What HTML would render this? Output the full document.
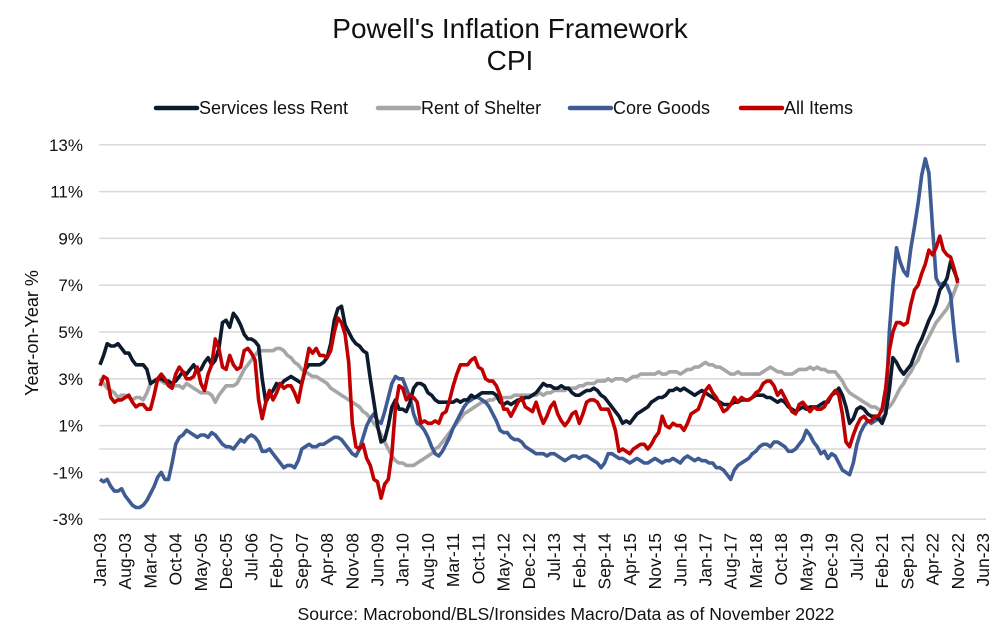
<!DOCTYPE html>
<html><head><meta charset="utf-8"><style>
body{margin:0;background:#fff;font-family:"Liberation Sans",Arial,sans-serif}
svg{display:block}
</style></head><body>
<svg id="chart" width="1005" height="631" viewBox="0 0 1005 631" xmlns="http://www.w3.org/2000/svg" font-family="Liberation Sans, Arial, sans-serif">
<text x="510" y="38" font-size="28" text-anchor="middle" fill="#111">Powell's Inflation Framework</text>
<text x="510" y="70" font-size="28" text-anchor="middle" fill="#111">CPI</text>
<g font-size="18" fill="#111">
<g><line x1="156" y1="108" x2="197" y2="108" stroke="#0d1b2e" stroke-width="4.5" stroke-linecap="round"/><text x="199" y="114">Services less Rent</text></g>
<g><line x1="378" y1="108" x2="419" y2="108" stroke="#a6a6a6" stroke-width="4.5" stroke-linecap="round"/><text x="421" y="114">Rent of Shelter</text></g>
<g><line x1="570" y1="108" x2="611" y2="108" stroke="#3e5b94" stroke-width="4.5" stroke-linecap="round"/><text x="613" y="114">Core Goods</text></g>
<g><line x1="741" y1="108" x2="782" y2="108" stroke="#c00000" stroke-width="4.5" stroke-linecap="round"/><text x="784" y="114">All Items</text></g>
</g>
<text transform="translate(38,333) rotate(-90)" font-size="18" text-anchor="middle" fill="#111">Year-on-Year %</text>
<g id="grid"></g><g id="yticks"></g><g id="xticks"></g><g id="series"></g>
<text x="566" y="620" font-size="17.6" text-anchor="middle" fill="#111">Source: Macrobond/BLS/Ironsides Macro/Data as of November 2022</text>
</svg>
<script>
const yTicks=[13,11,9,7,5,3,1,0,-1,-3];
const xTickLabels=["Jan-03","Aug-03","Mar-04","Oct-04","May-05","Dec-05","Jul-06","Feb-07","Sep-07","Apr-08","Nov-08","Jun-09","Jan-10","Aug-10","Mar-11","Oct-11","May-12","Dec-12","Jul-13","Feb-14","Sep-14","Apr-15","Nov-15","Jun-16","Jan-17","Aug-17","Mar-18","Oct-18","May-19","Dec-19","Jul-20","Feb-21","Sep-21","Apr-22","Nov-22","Jun-23"];
const servicesLessRent=[3.6,4.0,4.5,4.4,4.4,4.5,4.3,4.1,4.1,3.8,3.6,3.6,
3.6,3.4,2.8,2.9,3.0,3.0,2.9,2.9,2.8,2.9,3.1,3.3,
3.2,3.4,3.6,3.3,3.4,3.7,3.9,3.6,3.8,4.3,5.4,5.5,
5.2,5.8,5.6,5.3,4.9,4.7,4.7,4.6,4.4,3.0,2.0,2.3,
2.5,2.8,2.7,2.9,3.0,3.1,3.0,2.9,2.8,3.4,3.6,3.6,
3.6,3.6,3.7,3.9,4.5,5.5,6.0,6.1,5.3,5.0,4.7,4.5,
4.4,4.2,4.1,3.0,2.0,1.0,0.3,0.4,1.0,1.8,2.1,1.7,
1.7,1.6,2.0,2.6,2.8,2.8,2.7,2.4,2.3,2.1,2.0,2.0,
2.0,2.0,2.0,2.1,2.0,2.1,2.1,2.3,2.2,2.3,2.4,2.4,
2.4,2.4,2.3,2.0,1.9,2.0,1.9,2.0,2.1,2.1,2.2,2.2,
2.3,2.4,2.6,2.8,2.7,2.7,2.6,2.6,2.7,2.6,2.6,2.4,
2.3,2.3,2.4,2.5,2.5,2.6,2.5,2.3,2.2,2.0,1.8,1.6,
1.4,1.1,1.2,1.1,1.3,1.5,1.6,1.7,1.8,2.0,2.1,2.2,
2.2,2.3,2.5,2.5,2.6,2.5,2.6,2.5,2.4,2.3,2.4,2.5,
2.4,2.3,2.2,2.1,2.0,1.9,1.9,1.9,2.0,2.0,2.1,2.1,
2.1,2.2,2.3,2.3,2.3,2.2,2.2,2.1,2.0,2.1,2.0,1.8,
1.7,1.6,1.7,1.8,1.7,1.8,1.8,1.8,1.9,2.0,2.0,2.3,
2.4,2.6,2.3,1.8,1.1,1.3,1.7,1.8,1.7,1.5,1.4,1.4,
1.3,1.1,1.5,2.5,3.9,3.7,3.4,3.2,3.4,3.6,4.0,4.4,
4.7,5.1,5.5,5.8,6.2,6.8,7.0,7.3,8.0,7.6,7.2];
const rentOfShelter=[3.0,2.8,2.6,2.5,2.4,2.2,2.3,2.3,2.2,2.1,2.2,2.2,
2.1,2.4,2.8,2.9,3.0,2.9,2.8,2.8,2.7,2.7,2.7,2.6,
2.8,2.7,2.6,2.5,2.4,2.4,2.4,2.3,2.0,2.3,2.5,2.7,
2.7,2.7,2.8,3.1,3.4,3.6,3.8,4.0,4.2,4.2,4.2,4.2,
4.2,4.3,4.3,4.2,4.0,3.9,3.7,3.6,3.4,3.3,3.2,3.1,
3.1,3.0,2.9,2.8,2.6,2.5,2.4,2.3,2.2,2.1,2.0,1.9,
1.8,1.6,1.5,1.3,1.1,0.9,0.6,0.3,0.0,-0.3,-0.5,-0.6,
-0.6,-0.7,-0.7,-0.7,-0.6,-0.5,-0.4,-0.3,-0.2,0.0,0.1,0.3,
0.5,0.7,0.9,1.1,1.3,1.5,1.6,1.7,1.8,1.9,2.0,2.0,
2.1,2.1,2.2,2.1,2.2,2.2,2.2,2.3,2.3,2.3,2.3,2.3,
2.3,2.3,2.4,2.3,2.4,2.4,2.5,2.5,2.5,2.5,2.6,2.6,
2.6,2.7,2.7,2.8,2.8,2.8,2.9,2.9,2.9,3.0,2.9,3.0,
3.0,3.0,2.9,3.0,3.1,3.1,3.2,3.2,3.2,3.2,3.2,3.3,
3.2,3.2,3.3,3.3,3.3,3.2,3.3,3.4,3.4,3.5,3.5,3.6,
3.7,3.6,3.6,3.5,3.5,3.4,3.3,3.2,3.2,3.3,3.2,3.2,
3.2,3.2,3.2,3.2,3.3,3.4,3.5,3.4,3.3,3.3,3.2,3.2,
3.2,3.3,3.4,3.4,3.4,3.5,3.4,3.5,3.4,3.4,3.3,3.3,
3.3,3.1,2.9,2.6,2.4,2.3,2.2,2.1,2.0,1.9,1.8,1.8,
1.7,1.6,1.7,1.8,2.0,2.3,2.6,2.8,3.1,3.3,3.6,3.8,
4.2,4.5,4.8,5.1,5.4,5.6,5.8,6.0,6.3,6.7,7.1];
const coreGoods=[-1.3,-1.4,-1.3,-1.6,-1.8,-1.8,-1.7,-2.0,-2.2,-2.4,-2.5,-2.5,
-2.4,-2.2,-1.9,-1.6,-1.2,-1.0,-1.3,-1.3,-0.6,0.2,0.5,0.6,
0.8,0.7,0.6,0.5,0.6,0.6,0.5,0.7,0.6,0.4,0.2,0.1,
0.1,0.0,0.2,0.4,0.3,0.5,0.6,0.5,0.3,-0.1,-0.1,0.0,
-0.2,-0.4,-0.6,-0.8,-0.7,-0.7,-0.8,-0.5,0.0,0.1,0.2,0.1,
0.1,0.2,0.2,0.3,0.4,0.5,0.5,0.4,0.2,0.0,-0.2,-0.3,
0.0,0.5,1.0,1.3,1.5,1.2,1.1,1.6,2.2,2.8,3.1,3.0,
3.0,2.6,2.2,1.5,1.1,1.0,0.8,0.5,0.1,-0.2,-0.3,-0.1,
0.2,0.5,0.9,1.2,1.5,1.8,2.0,2.1,2.2,2.2,2.1,2.0,
1.8,1.5,1.2,0.8,0.7,0.7,0.5,0.4,0.4,0.3,0.1,0.0,
-0.1,-0.2,-0.2,-0.2,-0.3,-0.2,-0.2,-0.3,-0.4,-0.5,-0.4,-0.3,
-0.3,-0.4,-0.3,-0.3,-0.4,-0.5,-0.6,-0.8,-0.6,-0.2,-0.2,-0.3,
-0.4,-0.4,-0.5,-0.6,-0.5,-0.4,-0.5,-0.6,-0.6,-0.5,-0.4,-0.5,
-0.6,-0.5,-0.5,-0.4,-0.5,-0.6,-0.4,-0.3,-0.4,-0.5,-0.4,-0.5,
-0.5,-0.6,-0.6,-0.8,-0.8,-0.9,-1.1,-1.3,-0.9,-0.7,-0.6,-0.5,
-0.4,-0.2,-0.1,0.1,0.2,0.2,0.1,0.3,0.3,0.2,0.1,-0.1,
-0.1,0.0,0.2,0.4,0.8,0.6,0.3,0.1,-0.2,-0.1,-0.4,-0.2,
-0.3,-0.6,-0.9,-1.0,-1.1,-0.6,0.2,0.7,1.0,1.2,1.1,1.2,
1.3,1.3,1.5,5.0,7.0,8.6,8.0,7.6,7.4,8.6,9.5,10.5,
11.7,12.4,11.8,9.5,7.3,7.0,7.1,7.0,6.6,5.0,3.7];
const allItems=[2.7,3.1,3.0,2.2,2.0,2.1,2.1,2.2,2.3,2.0,1.8,1.9,
1.9,1.7,1.7,2.3,3.0,3.2,3.0,2.7,2.6,3.2,3.5,3.3,
3.0,3.0,3.1,3.5,2.8,2.5,3.2,3.6,4.7,4.3,3.5,3.4,
4.0,3.6,3.4,3.5,4.2,4.3,4.1,3.8,2.1,1.3,2.0,2.5,
2.1,2.4,2.8,2.6,2.7,2.7,2.4,2.0,2.8,3.5,4.3,4.1,
4.3,4.0,4.0,3.9,4.2,5.0,5.6,5.4,4.9,3.7,1.1,0.1,
0.0,0.2,-0.4,-0.7,-1.3,-1.4,-2.1,-1.5,-1.3,-0.2,1.8,2.7,
2.6,2.1,2.3,2.2,2.0,1.1,1.2,1.1,1.1,1.2,1.1,1.5,
1.6,2.1,2.7,3.2,3.6,3.6,3.6,3.8,3.9,3.5,3.4,3.0,
2.9,2.9,2.7,2.3,1.7,1.7,1.4,1.7,2.0,2.2,1.8,1.7,
1.6,2.0,1.5,1.1,1.4,1.8,2.0,1.5,1.2,1.0,1.2,1.5,
1.6,1.1,1.5,2.0,2.1,2.1,2.0,1.7,1.7,1.7,1.3,0.8,
-0.1,0.0,-0.1,-0.2,0.0,0.1,0.2,0.2,0.0,0.2,0.5,0.7,
1.4,1.0,0.9,1.1,1.0,1.0,0.8,1.1,1.5,1.6,1.7,2.1,
2.5,2.7,2.4,2.2,1.9,1.6,1.7,1.9,2.2,2.0,2.2,2.1,
2.1,2.2,2.4,2.5,2.8,2.9,2.9,2.7,2.3,2.5,2.2,1.9,
1.6,1.5,1.9,2.0,1.8,1.6,1.8,1.7,1.7,1.8,2.1,2.3,
2.5,2.3,1.5,0.3,0.1,0.6,1.0,1.3,1.4,1.2,1.2,1.4,
1.4,1.7,2.6,4.2,5.0,5.4,5.4,5.3,5.4,6.2,6.8,7.0,
7.5,7.9,8.5,8.3,8.6,9.1,8.5,8.3,8.2,7.7,7.1];

const NS="http://www.w3.org/2000/svg";
const X0=100, PX=883/245, Y0=449, PY=23.4;
function xS(m){return X0+m*PX;}
function yS(v){return Y0-v*PY;}
function mk(t,a,p){const e=document.createElementNS(NS,t);for(const k in a)e.setAttribute(k,a[k]);p.appendChild(e);return e;}
const grid=document.getElementById('grid'),yt=document.getElementById('yticks'),xt=document.getElementById('xticks'),ser=document.getElementById('series');
yTicks.forEach(v=>{
  const l=mk('line',{x1:99,x2:986,y1:yS(v),y2:yS(v),stroke:'#d9d9d9','stroke-width':1.5},grid);
  
  
  if(v!==0){
    const t=mk('text',{x:83,y:yS(v)+6,'font-size':17,'text-anchor':'end',fill:'#111'},yt);
    t.textContent=v+'%';
    
    
  }
});
xTickLabels.forEach((s,i)=>{
  const x=xS(i*7);
  const t=mk('text',{transform:`translate(${x+6},533) rotate(-90)`,'font-size':17.5,'text-anchor':'end',fill:'#111'},xt);
  t.textContent=s;
  
  
});
function draw(arr,color,name){
  const d=arr.map((v,i)=>(i?'L':'M')+xS(i).toFixed(1)+','+yS(v).toFixed(1)).join('');
  const p=mk('path',{d:d,fill:'none',stroke:color,'stroke-width':3.6,'stroke-linejoin':'round'},ser);
  
  
}
draw(rentOfShelter,'#a6a6a6','rent-of-shelter-line');
draw(coreGoods,'#3e5b94','core-goods-line');
draw(servicesLessRent,'#0d1b2e','services-less-rent-line');
draw(allItems,'#c00000','all-items-line');
</script>
</body></html>
